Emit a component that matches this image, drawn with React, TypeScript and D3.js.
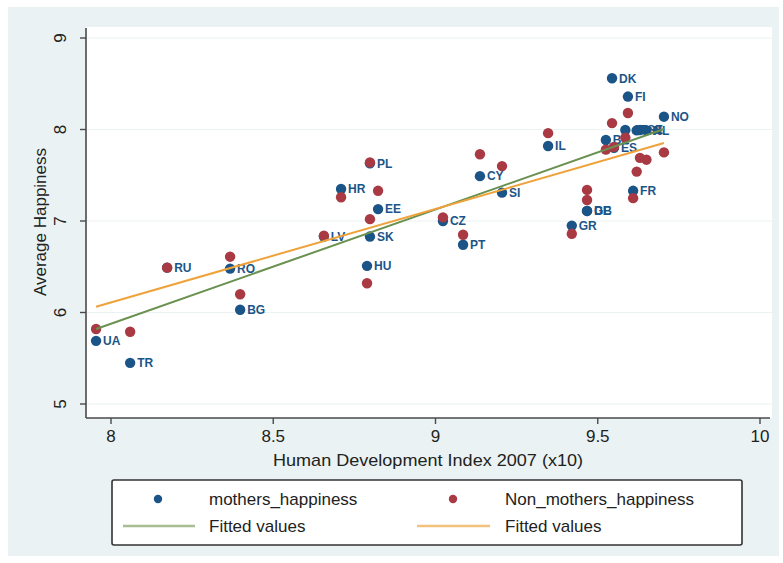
import React from "react";
import * as d3 from "d3";

const countries = ["UA","TR","RU","RO","BG","LV","HR","PL","EE","SK","HU","CZ","PT","CY","SI","IL","GR","GB","DE","FR","DK","FI","NO","BE","ES","AT","CH","SE","NL"];
const hdi = [7.954,8.059,8.173,8.367,8.398,8.656,8.709,8.798,8.823,8.798,8.789,9.023,9.085,9.137,9.205,9.347,9.420,9.467,9.467,9.609,9.544,9.593,9.704,9.525,9.550,9.585,9.620,9.630,9.650];
const mothersHappiness = [5.69,5.45,6.49,6.48,6.03,6.83,7.35,7.63,7.13,6.83,6.51,7.00,6.74,7.49,7.31,7.82,6.95,7.11,7.11,7.33,8.56,8.36,8.14,7.885,7.80,7.995,7.99,7.995,7.99];
const nonMothersHappiness = [5.82,5.79,6.49,6.61,6.20,6.84,7.26,7.64,7.33,7.02,6.32,7.04,6.85,7.73,7.60,7.96,6.86,7.34,7.23,7.25,8.07,8.18,7.75,7.78,7.81,7.91,7.54,7.69,7.67];
const xTicks = [8, 8.5, 9, 9.5, 10];
const yTicks = [5, 6, 7, 8, 9];
const xTickLabels = ["8", "8.5", "9", "9.5", "10"];
const yTickLabels = ["5", "6", "7", "8", "9"];
const legendLabels = ["mothers_happiness", "Non_mothers_happiness", "Fitted values", "Fitted values"];

const BLUE = "#1b5588";
const RED = "#a93a44";
const GREEN = "#6a9150";
const ORANGE = "#f0a23a";
const AXIS = "#4a4a4a";
const BG = "#eaf2f3";
const FONT = "'Liberation Sans', Arial, Helvetica, sans-serif";

function fit(xs: number[], ys: number[]) {
  const mx = d3.mean(xs)!;
  const my = d3.mean(ys)!;
  let num = 0, den = 0;
  xs.forEach((x, i) => { num += (x - mx) * (ys[i] - my); den += (x - mx) * (x - mx); });
  const b = num / den;
  const a = my - b * mx;
  const [x0, x1] = d3.extent(xs) as [number, number];
  return [[x0, a + b * x0], [x1, a + b * x1]] as [number, number][];
}

export default function App() {
  const x = d3.scaleLinear().domain([8, 10]).range([111, 760]);
  const y = d3.scaleLinear().domain([5, 9]).range([404, 38]);
  const line = d3.line<[number, number]>().x(d => x(d[0])).y(d => y(d[1]));
  const fitM = fit(hdi, mothersHappiness);
  const fitN = fit(hdi, nonMothersHappiness);
  const plotL = 86, plotR = 772, plotT = 27, plotB = 418;

  return (
    <svg width={783} height={563} style={{ position: "absolute", left: 0, top: 0 }} fontFamily={FONT}>
      <rect x={0} y={0} width={783} height={563} fill="#ffffff" />
      <rect x={8} y={7} width={771} height={549} fill={BG} />
      <rect x={plotL} y={plotT} width={plotR - plotL} height={plotB - plotT} fill="#ffffff" />
      {yTicks.map(t => (
        <line key={"g" + t} x1={plotL} x2={plotR} y1={y(t)} y2={y(t)} stroke={BG} strokeWidth={1.2} />
      ))}
      {/* axes */}
      <line x1={plotL} x2={plotL} y1={plotT + 1} y2={plotB} stroke={AXIS} strokeWidth={1.6} />
      <line x1={plotL} x2={plotR - 2} y1={plotB} y2={plotB} stroke={AXIS} strokeWidth={1.6} />
      {yTicks.map((t, i) => (
        <g key={"yt" + t}>
          <line x1={plotL - 6} x2={plotL} y1={y(t)} y2={y(t)} stroke={AXIS} strokeWidth={1.4} />
          <text x={66} y={y(t)} transform={`rotate(-90, 66, ${y(t)})`} textAnchor="middle" fontSize={17} fill="#222">{yTickLabels[i]}</text>
        </g>
      ))}
      {xTicks.map((t, i) => (
        <g key={"xt" + t}>
          <line x1={x(t)} x2={x(t)} y1={plotB} y2={plotB + 6} stroke={AXIS} strokeWidth={1.4} />
          <text x={x(t)} y={442} textAnchor="middle" fontSize={17} fill="#222">{xTickLabels[i]}</text>
        </g>
      ))}
      <text x={428} y={466} textAnchor="middle" fontSize={17} fill="#222" textLength={310} lengthAdjust="spacingAndGlyphs">Human Development Index 2007 (x10)</text>
      <text x={46} y={222} transform="rotate(-90, 46, 222)" textAnchor="middle" fontSize={17} fill="#222">Average Happiness</text>

      {/* mothers markers + labels */}
      {hdi.map((h, i) => (
        <g key={"m" + i}>
          <circle cx={x(h)} cy={y(mothersHappiness[i])} r={5.2} fill={BLUE} />
          <text x={x(h) + 7} y={y(mothersHappiness[i])} dy="0.36em" fontSize={12} fontWeight="bold" fill={BLUE}>{countries[i]}</text>
        </g>
      ))}
      {/* non-mothers markers */}
      {hdi.map((h, i) => (
        <circle key={"n" + i} cx={x(h)} cy={y(nonMothersHappiness[i])} r={5.2} fill={RED} />
      ))}
      <path d={line(fitM)!} stroke={GREEN} strokeWidth={2} fill="none" />
      <path d={line(fitN)!} stroke={ORANGE} strokeWidth={2} fill="none" />

      {/* legend */}
      <rect x={112} y={480} width={630} height={65} fill="#ffffff" stroke="#333" strokeWidth={1.6} rx={2} />
      <circle cx={158} cy={499} r={4.2} fill={BLUE} />
      <text x={209} y={505} fontSize={17} fill="#222">{legendLabels[0]}</text>
      <circle cx={453} cy={499} r={4.2} fill={RED} />
      <text x={505} y={505} fontSize={17} fill="#222">{legendLabels[1]}</text>
      <line x1={123} x2={195} y1={526} y2={526} stroke="#a9bc94" strokeWidth={2.5} />
      <text x={209} y={532} fontSize={17} fill="#222">{legendLabels[2]}</text>
      <line x1={417} x2={490} y1={526} y2={526} stroke="#f3c17e" strokeWidth={2.5} />
      <text x={505} y={532} fontSize={17} fill="#222">{legendLabels[3]}</text>
    </svg>
  );
}
